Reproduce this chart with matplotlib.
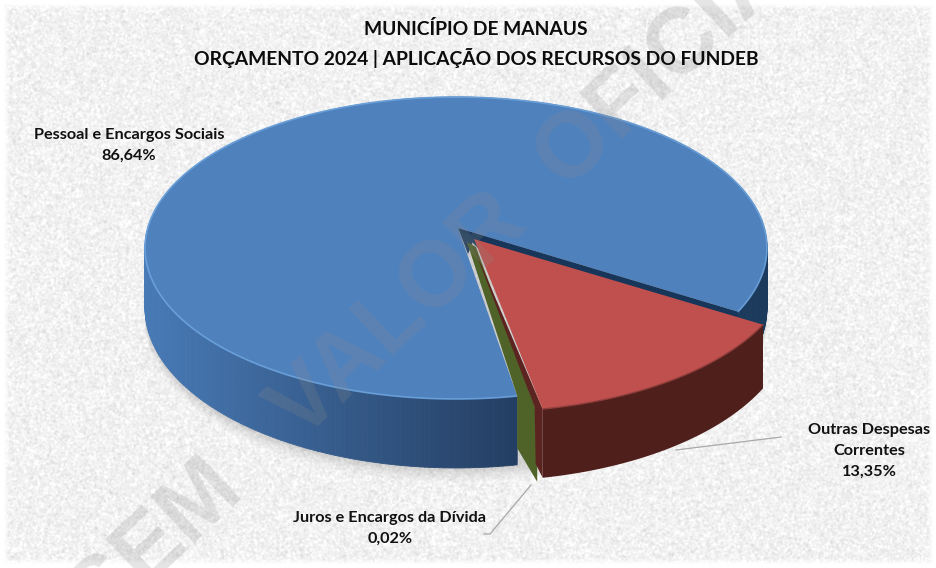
import numpy as np
import matplotlib
matplotlib.use('Agg')
import matplotlib.pyplot as plt
from matplotlib.collections import PolyCollection

# dados do gráfico
categories = ['Pessoal e Encargos Sociais', 'Outras Despesas\nCorrentes', 'Juros e Encargos da Dívida']
values = [86.64, 13.35, 0.02]
value_labels = ['86,64%', '13,35%', '0,02%']
title_lines = ['MUNICÍPIO DE MANAUS', 'ORÇAMENTO 2024 | APLICAÇÃO DOS RECURSOS DO FUNDEB']

W, H = 937, 568
CX, CY = 456, 248     # centro da elipse
RX, RY = 311, 151
APEX = np.array([458, 228])
P = 0.07j             # desloca o centro aparente (perspectiva)
RED_START = 122.0     # graus, sentido horário a partir do topo

plt.rcParams['font.family'] = ['Lato', 'DejaVu Sans']
plt.rcParams['font.weight'] = 'bold'

fig = plt.figure(figsize=(W / 100, H / 100), dpi=100)
ax = fig.add_axes([0, 0, 1, 1])
ax.set_xlim(0, W)
ax.set_ylim(H, 0)
ax.axis('off')


def rim(theta_deg):
    t = np.radians(np.asarray(theta_deg, dtype=float))
    z = np.sin(t) + 1j * np.cos(t)
    w = (z + P) / (1 + np.conj(P) * z)
    return np.column_stack([CX + RX * w.real, CY - RY * w.imag])


def depth(pts):
    # a parede fica um pouco mais alta na frente
    return 60 + (pts[:, 1] - 250) / 150 * 9


def wall(pts):
    out = pts.copy()
    out[:, 1] += depth(pts)
    return out


def blue_wall_color(x):
    if x > 600:
        return (27 / 255, 58 / 255, 92 / 255)
    t = np.clip((x - 145) / 375, 0, 1)
    c0 = np.array([72, 122, 182]) / 255
    c1 = np.array([36, 62, 98]) / 255
    return tuple(c0 + (c1 - c0) * t)


# fundo texturizado
rng = np.random.default_rng(3)
noise = rng.normal(size=(H, W))
fx = np.fft.fftfreq(W)[None, :]
fy = np.fft.fftfreq(H)[:, None]
smooth = np.fft.ifft2(np.fft.fft2(noise) * np.exp(-(fx ** 2 + fy ** 2) * 12)).real
smooth = smooth / smooth.std()
bg = np.clip(241 + 6 * smooth, 215, 255)
yy, xx = np.mgrid[0:H, 0:W]
edge = np.minimum.reduce([xx, yy, W - 1 - xx, H - 1 - yy])
fade = np.clip((edge - 3) / 6, 0, 1)
bg = 255 - (255 - bg) * fade
ax.imshow(bg, cmap='gray', vmin=0, vmax=255, extent=(0, W, H, 0), aspect='auto', zorder=0)
ax.set_xlim(0, W)
ax.set_ylim(H, 0)

# ângulos a partir dos valores
total = sum(values)
sweep_red = values[1] / total * 360
sweep_green = values[2] / total * 360
red_a, red_b = RED_START, RED_START + sweep_red
green_b = red_b + sweep_green
blue_a, blue_b = green_b, RED_START + 360

# sombra
full = rim(np.linspace(0, 360, 241))
for k, a in zip(range(14, 0, -2), [0.02, 0.02, 0.03, 0.03, 0.04, 0.04, 0.05]):
    s = wall(full) + np.array([0, k])
    ax.fill(s[:, 0], s[:, 1], color='#555555', alpha=a, lw=0, zorder=1)

# pizza azul: parede, corte e topo
th = np.linspace(blue_a, blue_b, 400)
top = rim(th)
low = wall(top)
quads = [[top[i], top[i + 1], low[i + 1], low[i]] for i in range(len(th) - 1)]
cols = [blue_wall_color(top[i, 0]) for i in range(len(th) - 1)]
ax.add_collection(PolyCollection(quads, facecolors=cols, edgecolors=cols, linewidths=0.6, zorder=2))
poly = np.vstack([APEX, top])
ax.fill(poly[:, 0], poly[:, 1], color='#4F81BD', lw=0, zorder=3)
ax.plot(top[:, 0], top[:, 1], color='#6fa6e0', lw=1.2, alpha=0.85, zorder=3)

r_off = np.array([16, 11])       # deslocamento do vértice da fatia vermelha
r_rim_off = np.array([25, 13])   # deslocamento da borda da fatia vermelha

end = rim([red_a])[0]
endl = wall(rim([red_a]))[0]
ax.fill([APEX[0], end[0], endl[0], APEX[0] + 30], [APEX[1], end[1], endl[1], APEX[1] + 30],
        color='#17365a', lw=0, zorder=3.5)
ax.fill([APEX[0], APEX[0] + 10, APEX[0] + r_off[0]], [APEX[1], APEX[1] + 26, APEX[1] + r_off[1]],
        color='#1f3d5f', lw=0, zorder=3.5)

# fatia verde (só aparece o corte)
g_rim = rim([green_b])[0]
g_low = wall(rim([green_b]))[0]
g_off = np.array([20, 17])
g_poly = np.array([APEX + [9, 14], g_rim, [g_rim[0], g_rim[1] + 52], g_low + g_off, g_rim + g_off,
                   APEX + r_off + [2, 8]])
ax.fill(g_poly[:, 0], g_poly[:, 1], color='#4F6228', lw=0, zorder=4)

# fatia vermelha deslocada
th = np.linspace(red_a, red_b, 120)
top = rim(th) + r_rim_off
low = wall(rim(th)) + r_rim_off
ax.fill(np.r_[top[:, 0], low[::-1, 0]], np.r_[top[:, 1], low[::-1, 1]], color='#4f1f1c', lw=0, zorder=5)
r_end, r_end_low = top[-1], low[-1]
ax.fill([APEX[0] + r_off[0] - 2, r_end[0] - 8, r_end_low[0] - 7, r_end_low[0], r_end[0]],
        [APEX[1] + r_off[1] + 4, r_end[1] - 2, r_end_low[1] - 14, r_end_low[1], r_end[1]],
        color='#5c2421', lw=0, zorder=5)
poly = np.vstack([APEX + r_off, top])
ax.fill(poly[:, 0], poly[:, 1], color='#C0504D', lw=0, zorder=6)
ax.plot(top[:, 0], top[:, 1], color='#8f3d3a', lw=1.0, zorder=6)

# linhas de chamada
ax.plot([214, 250], [158, 141], color='#a8a8a8', lw=0.9, zorder=2)
ax.plot([676, 781], [450, 437], color='#a8a8a8', lw=0.9, zorder=2)
ax.plot([531, 490, 484], [485, 534, 534], color='#a8a8a8', lw=0.9, zorder=2)

# marca d'água
ax.text(450, 268, 'SEM   VALOR  OFICIAL', rotation=43.4, rotation_mode='anchor', ha='center', va='center',
        fontsize=66, fontfamily=['Liberation Sans', 'DejaVu Sans'], fontweight='bold', color='#8a8a8a',
        alpha=0.22, zorder=7, clip_on=True)

# textos
ax.text(476, 29, title_lines[0], ha='center', va='center', fontsize=13.85, color='#0c0c0c', zorder=8)
ax.text(476, 58, title_lines[1], ha='center', va='center', fontsize=13.85, color='#0c0c0c', zorder=8)
ax.text(129, 145, categories[0] + '\n' + value_labels[0], ha='center', va='center', fontsize=11.7,
        linespacing=1.6, color='#111111', zorder=8)
ax.text(869, 451, categories[1] + '\n' + value_labels[1], ha='center', va='center', fontsize=11.7,
        linespacing=1.6, color='#111111', zorder=8)
ax.text(390, 528, categories[2] + '\n' + value_labels[2], ha='center', va='center', fontsize=11.7,
        linespacing=1.6, color='#111111', zorder=8)

fig.savefig('out.png', dpi=100)
